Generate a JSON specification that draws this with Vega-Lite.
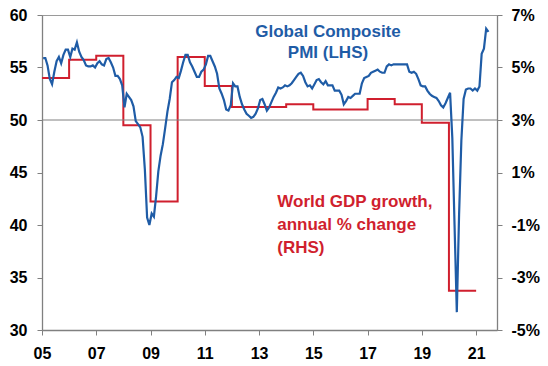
{
  "$schema": "https://vega.github.io/schema/vega-lite/v6.json",
  "width": 455,
  "height": 315,
  "autosize": "none",
  "padding": {"left": 42, "top": 15, "right": 51, "bottom": 36},
  "background": "white",
  "config": {
    "view": {"stroke": "#9a9a9a", "strokeWidth": 1},
    "font": "Liberation Sans",
    "axis": {
      "labelFont": "Liberation Sans",
      "labelFontSize": 16,
      "labelFontWeight": "bold",
      "labelColor": "#000000",
      "domainColor": "#808080",
      "domainWidth": 1.3,
      "tickColor": "#808080",
      "tickSize": 5,
      "grid": false,
      "title": null
    }
  },
  "datasets": {
    "pmi": [
      {"date": "2005-01", "pmi": 55.9}, {"date": "2005-02", "pmi": 55.9}, {"date": "2005-03", "pmi": 55.2}, {"date": "2005-04", "pmi": 53.9}, {"date": "2005-05", "pmi": 53.4}, {"date": "2005-06", "pmi": 54.6}, {"date": "2005-07", "pmi": 55.6}, {"date": "2005-08", "pmi": 56.0}, {"date": "2005-09", "pmi": 55.4}, {"date": "2005-10", "pmi": 56.2}, {"date": "2005-11", "pmi": 56.7}, {"date": "2005-12", "pmi": 56.7},
      {"date": "2006-01", "pmi": 56.0}, {"date": "2006-02", "pmi": 56.8}, {"date": "2006-03", "pmi": 56.7}, {"date": "2006-04", "pmi": 57.4}, {"date": "2006-05", "pmi": 56.5}, {"date": "2006-06", "pmi": 56.0}, {"date": "2006-07", "pmi": 55.7}, {"date": "2006-08", "pmi": 55.2}, {"date": "2006-09", "pmi": 55.1}, {"date": "2006-10", "pmi": 55.1}, {"date": "2006-11", "pmi": 55.2}, {"date": "2006-12", "pmi": 55.0},
      {"date": "2007-01", "pmi": 55.4}, {"date": "2007-02", "pmi": 55.6}, {"date": "2007-03", "pmi": 55.3}, {"date": "2007-04", "pmi": 55.2}, {"date": "2007-05", "pmi": 55.8}, {"date": "2007-06", "pmi": 55.9}, {"date": "2007-07", "pmi": 55.5}, {"date": "2007-08", "pmi": 55.0}, {"date": "2007-09", "pmi": 54.2}, {"date": "2007-10", "pmi": 54.2}, {"date": "2007-11", "pmi": 53.9}, {"date": "2007-12", "pmi": 53.3},
      {"date": "2008-01", "pmi": 51.2}, {"date": "2008-02", "pmi": 52.5}, {"date": "2008-03", "pmi": 52.2}, {"date": "2008-04", "pmi": 51.9}, {"date": "2008-05", "pmi": 51.3}, {"date": "2008-06", "pmi": 49.9}, {"date": "2008-07", "pmi": 49.6}, {"date": "2008-08", "pmi": 49.3}, {"date": "2008-09", "pmi": 48.4}, {"date": "2008-10", "pmi": 45.3}, {"date": "2008-11", "pmi": 40.7}, {"date": "2008-12", "pmi": 40.0},
      {"date": "2009-01", "pmi": 41.1}, {"date": "2009-02", "pmi": 40.8}, {"date": "2009-03", "pmi": 42.7}, {"date": "2009-04", "pmi": 45.1}, {"date": "2009-05", "pmi": 46.6}, {"date": "2009-06", "pmi": 47.7}, {"date": "2009-07", "pmi": 49.2}, {"date": "2009-08", "pmi": 50.8}, {"date": "2009-09", "pmi": 52.0}, {"date": "2009-10", "pmi": 53.6}, {"date": "2009-11", "pmi": 53.8}, {"date": "2009-12", "pmi": 54.1},
      {"date": "2010-01", "pmi": 54.0}, {"date": "2010-02", "pmi": 54.7}, {"date": "2010-03", "pmi": 55.5}, {"date": "2010-04", "pmi": 56.2}, {"date": "2010-05", "pmi": 56.2}, {"date": "2010-06", "pmi": 55.5}, {"date": "2010-07", "pmi": 55.1}, {"date": "2010-08", "pmi": 54.6}, {"date": "2010-09", "pmi": 54.1}, {"date": "2010-10", "pmi": 54.1}, {"date": "2010-11", "pmi": 54.6}, {"date": "2010-12", "pmi": 54.8},
      {"date": "2011-01", "pmi": 55.3}, {"date": "2011-02", "pmi": 56.1}, {"date": "2011-03", "pmi": 56.1}, {"date": "2011-04", "pmi": 55.6}, {"date": "2011-05", "pmi": 55.1}, {"date": "2011-06", "pmi": 54.4}, {"date": "2011-07", "pmi": 53.0}, {"date": "2011-08", "pmi": 52.5}, {"date": "2011-09", "pmi": 51.9}, {"date": "2011-10", "pmi": 51.0}, {"date": "2011-11", "pmi": 50.9}, {"date": "2011-12", "pmi": 51.4},
      {"date": "2012-01", "pmi": 53.5}, {"date": "2012-02", "pmi": 53.2}, {"date": "2012-03", "pmi": 53.2}, {"date": "2012-04", "pmi": 52.2}, {"date": "2012-05", "pmi": 51.5}, {"date": "2012-06", "pmi": 51.0}, {"date": "2012-07", "pmi": 50.6}, {"date": "2012-08", "pmi": 50.4}, {"date": "2012-09", "pmi": 50.2}, {"date": "2012-10", "pmi": 50.3}, {"date": "2012-11", "pmi": 50.6}, {"date": "2012-12", "pmi": 51.1},
      {"date": "2013-01", "pmi": 51.9}, {"date": "2013-02", "pmi": 52.0}, {"date": "2013-03", "pmi": 51.5}, {"date": "2013-04", "pmi": 50.9}, {"date": "2013-05", "pmi": 51.2}, {"date": "2013-06", "pmi": 51.7}, {"date": "2013-07", "pmi": 52.2}, {"date": "2013-08", "pmi": 52.6}, {"date": "2013-09", "pmi": 53.1}, {"date": "2013-10", "pmi": 53.0}, {"date": "2013-11", "pmi": 53.1}, {"date": "2013-12", "pmi": 53.3},
      {"date": "2014-01", "pmi": 53.2}, {"date": "2014-02", "pmi": 53.3}, {"date": "2014-03", "pmi": 53.5}, {"date": "2014-04", "pmi": 53.8}, {"date": "2014-05", "pmi": 54.1}, {"date": "2014-06", "pmi": 54.4}, {"date": "2014-07", "pmi": 54.5}, {"date": "2014-08", "pmi": 54.2}, {"date": "2014-09", "pmi": 53.6}, {"date": "2014-10", "pmi": 53.2}, {"date": "2014-11", "pmi": 53.3}, {"date": "2014-12", "pmi": 53.0},
      {"date": "2015-01", "pmi": 53.4}, {"date": "2015-02", "pmi": 53.8}, {"date": "2015-03", "pmi": 53.9}, {"date": "2015-04", "pmi": 53.6}, {"date": "2015-05", "pmi": 53.4}, {"date": "2015-06", "pmi": 53.7}, {"date": "2015-07", "pmi": 53.3}, {"date": "2015-08", "pmi": 53.3}, {"date": "2015-09", "pmi": 53.3}, {"date": "2015-10", "pmi": 52.8}, {"date": "2015-11", "pmi": 52.8}, {"date": "2015-12", "pmi": 52.8},
      {"date": "2016-01", "pmi": 52.4}, {"date": "2016-02", "pmi": 51.5}, {"date": "2016-03", "pmi": 51.8}, {"date": "2016-04", "pmi": 52.2}, {"date": "2016-05", "pmi": 52.1}, {"date": "2016-06", "pmi": 52.3}, {"date": "2016-07", "pmi": 52.5}, {"date": "2016-08", "pmi": 52.5}, {"date": "2016-09", "pmi": 52.5}, {"date": "2016-10", "pmi": 53.5}, {"date": "2016-11", "pmi": 54.0}, {"date": "2016-12", "pmi": 54.1},
      {"date": "2017-01", "pmi": 54.2}, {"date": "2017-02", "pmi": 54.5}, {"date": "2017-03", "pmi": 54.6}, {"date": "2017-04", "pmi": 54.7}, {"date": "2017-05", "pmi": 54.8}, {"date": "2017-06", "pmi": 54.6}, {"date": "2017-07", "pmi": 54.5}, {"date": "2017-08", "pmi": 54.5}, {"date": "2017-09", "pmi": 55.1}, {"date": "2017-10", "pmi": 55.3}, {"date": "2017-11", "pmi": 55.2}, {"date": "2017-12", "pmi": 55.3},
      {"date": "2018-01", "pmi": 55.3}, {"date": "2018-02", "pmi": 55.3}, {"date": "2018-03", "pmi": 55.3}, {"date": "2018-04", "pmi": 55.3}, {"date": "2018-05", "pmi": 55.3}, {"date": "2018-06", "pmi": 55.3}, {"date": "2018-07", "pmi": 54.6}, {"date": "2018-08", "pmi": 54.5}, {"date": "2018-09", "pmi": 54.6}, {"date": "2018-10", "pmi": 54.4}, {"date": "2018-11", "pmi": 53.9}, {"date": "2018-12", "pmi": 53.3},
      {"date": "2019-01", "pmi": 53.2}, {"date": "2019-02", "pmi": 53.2}, {"date": "2019-03", "pmi": 52.8}, {"date": "2019-04", "pmi": 52.5}, {"date": "2019-05", "pmi": 52.3}, {"date": "2019-06", "pmi": 52.2}, {"date": "2019-07", "pmi": 52.1}, {"date": "2019-08", "pmi": 51.8}, {"date": "2019-09", "pmi": 51.4}, {"date": "2019-10", "pmi": 51.2}, {"date": "2019-11", "pmi": 51.6}, {"date": "2019-12", "pmi": 52.1},
      {"date": "2020-01", "pmi": 52.6}, {"date": "2020-02", "pmi": 48.3}, {"date": "2020-03", "pmi": 40.0}, {"date": "2020-04", "pmi": 31.7}, {"date": "2020-05", "pmi": 41.0}, {"date": "2020-06", "pmi": 48.0}, {"date": "2020-07", "pmi": 52.0}, {"date": "2020-08", "pmi": 52.9}, {"date": "2020-09", "pmi": 53.0}, {"date": "2020-10", "pmi": 53.0}, {"date": "2020-11", "pmi": 52.8}, {"date": "2020-12", "pmi": 53.0},
      {"date": "2021-01", "pmi": 52.8}, {"date": "2021-02", "pmi": 53.2}, {"date": "2021-03", "pmi": 56.3}, {"date": "2021-04", "pmi": 56.8}, {"date": "2021-05", "pmi": 58.7}, {"date": "2021-06", "pmi": 58.4}
    ],
    "gdp": [
      {"year": "2005", "gdp": 4.6}, {"year": "2006", "gdp": 5.3}, {"year": "2007", "gdp": 5.45}, {"year": "2008", "gdp": 2.8}, {"year": "2009", "gdp": -0.1}, {"year": "2010", "gdp": 5.4}, {"year": "2011", "gdp": 4.3}, {"year": "2012", "gdp": 3.5}, {"year": "2013", "gdp": 3.5}, {"year": "2014", "gdp": 3.6}, {"year": "2015", "gdp": 3.4}, {"year": "2016", "gdp": 3.4}, {"year": "2017", "gdp": 3.8}, {"year": "2018", "gdp": 3.6}, {"year": "2019", "gdp": 2.9}, {"year": "2020", "gdp": -3.5}, {"year": "2021", "gdp": -3.5}
    ]
  },
  "layer": [
    {
      "data": {"name": "gdp", "format": {"parse": {"year": "utc:'%Y'"}}},
      "mark": {"type": "line", "interpolate": "step-after", "color": "#d01f2e", "strokeWidth": 2},
      "encoding": {
        "x": {"field": "year", "type": "temporal", "scale": {"type": "utc"}},
        "y": {
          "field": "gdp",
          "type": "quantitative",
          "scale": {"domain": [-5, 7], "nice": false, "zero": false},
          "axis": {"orient": "right", "values": [-5, -3, -1, 1, 3, 5, 7], "labelExpr": "datum.value + '%'", "labelPadding": 9, "labelFlush": false}
        }
      }
    },
    {
      "layer": [
        {
          "data": {"values": [{}]},
          "mark": {"type": "rule", "color": "#808080", "strokeWidth": 1},
          "encoding": {"y": {"datum": 50, "type": "quantitative"}}
        },
        {
          "data": {"name": "pmi", "format": {"parse": {"date": "utc:'%Y-%m'"}}},
          "mark": {"type": "line", "color": "#1f5ca6", "strokeWidth": 2.2},
          "encoding": {
            "x": {
              "field": "date",
              "type": "temporal",
              "timeUnit": "utcyearmonth",
              "bandPosition": 0.5,
              "scale": {"type": "utc", "domain": [{"year": 2005, "month": 1, "date": 1, "utc": true}, {"year": 2021, "month": 10, "date": 9, "utc": true}]},
              "axis": {
                "values": [
                  {"year": 2005, "month": 1, "date": 1, "utc": true}, {"year": 2007, "month": 1, "date": 1, "utc": true}, {"year": 2009, "month": 1, "date": 1, "utc": true}, {"year": 2011, "month": 1, "date": 1, "utc": true}, {"year": 2013, "month": 1, "date": 1, "utc": true}, {"year": 2015, "month": 1, "date": 1, "utc": true}, {"year": 2017, "month": 1, "date": 1, "utc": true}, {"year": 2019, "month": 1, "date": 1, "utc": true}, {"year": 2021, "month": 1, "date": 1, "utc": true}
                ],
                "format": "%y",
                "labelPadding": 10,
                "labelFlush": false,
                "labelOverlap": false
              }
            },
            "y": {
              "field": "pmi",
              "type": "quantitative",
              "scale": {"domain": [30, 60], "nice": false, "zero": false},
              "axis": {"orient": "left", "values": [30, 35, 40, 45, 50, 55, 60], "labelPadding": 10, "labelFlush": false}
            }
          }
        },
        {
          "data": {"values": [{}]},
          "mark": {"type": "text", "text": ["Global Composite", "PMI (LHS)"], "align": "center", "baseline": "alphabetic", "font": "Liberation Sans", "fontSize": 17, "fontWeight": "bold", "color": "#1f5ca6", "lineHeight": 21},
          "encoding": {
            "x": {"datum": {"year": 2015, "month": 7, "date": 18, "utc": true}, "type": "temporal"},
            "y": {"datum": 57.9, "type": "quantitative"}
          }
        },
        {
          "data": {"values": [{}]},
          "mark": {"type": "text", "text": ["World GDP growth,", "annual % change", "(RHS)"], "align": "left", "baseline": "alphabetic", "font": "Liberation Sans", "fontSize": 17, "fontWeight": "bold", "color": "#d01f2e", "lineHeight": 23},
          "encoding": {
            "x": {"datum": {"year": 2013, "month": 9, "date": 3, "utc": true}, "type": "temporal"},
            "y": {"datum": 41.7, "type": "quantitative"}
          }
        }
      ]
    }
  ],
  "resolve": {"scale": {"y": "independent"}}
}
